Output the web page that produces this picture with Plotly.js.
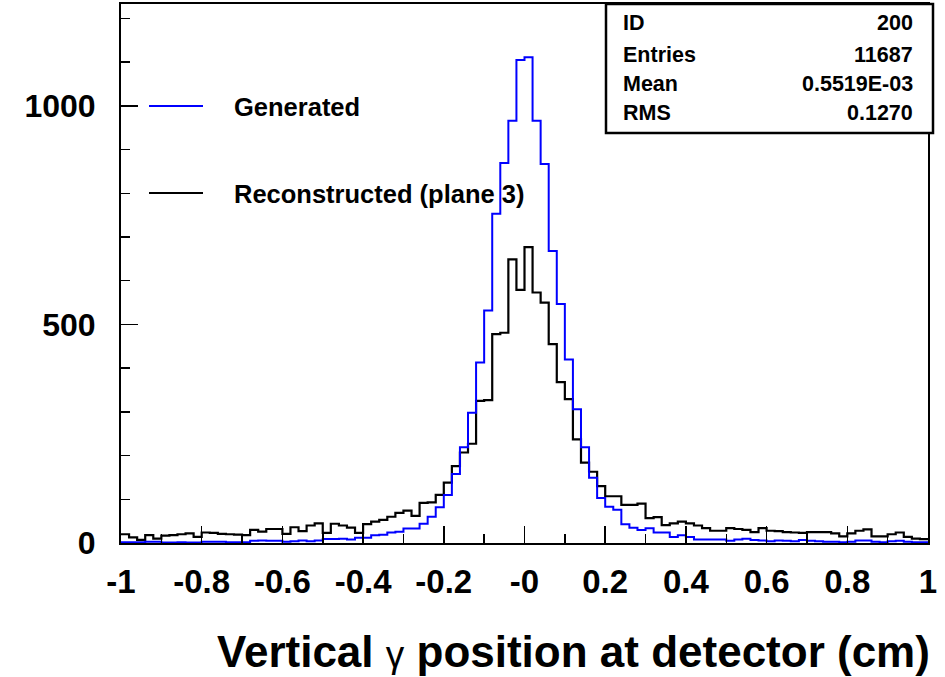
<!DOCTYPE html>
<html>
<head>
<meta charset="utf-8">
<script src="https://cdn.plot.ly/plotly-3.0.1.min.js"></script>
<style>html,body{margin:0;padding:0;background:#fff;}#chart{width:945px;height:677px;}</style>
</head>
<body>
<div id="chart"></div>
<script>
// Histogram definition
const xMin = -1, xMax = 1, nBins = 100;

// Generated (blue) bin contents
const generated = [
  2,2,2,3,3,1,1,2,1,1,3,3,3,2,2,
  2,5,6,5,5,3,4,6,4,6,9,9,10,
  8,12,12,18,19,24,26,33,33,44,60,82,110,
  158,219,298,413,532,753,869,966,1105,1111,966,867,668,547,420,306,219,149,103,
  83,76,43,35,30,34,24,24,14,18,14,8,8,8,8,
  5,8,10,7,6,4,6,5,4,7,5,4,
  3,3,2,3,6,6,3,2,4,5,3,2,2
];

// Reconstructed (plane 3) (black) bin contents
const reconstructed = [
  20,13,7,18,10,17,18,20,22,14,24,23,21,20,19,
  18,30,26,32,32,21,36,27,40,45,23,44,40,35,23,
  43,49,53,60,69,74,62,92,93,110,138,176,207,227,
  325,327,478,481,649,579,677,573,550,455,368,329,237,184,163,130,
  107,107,87,87,90,57,59,41,45,49,45,40,34,
  28,28,34,32,30,25,34,28,27,25,24,23,25,25,25,22,
  15,22,28,31,15,15,20,24,14,10,9
];

const xTickVals = [-1,-0.8,-0.6,-0.4,-0.2,0,0.2,0.4,0.6,0.8,1];
const xTickText = ['-1','-0.8','-0.6','-0.4','-0.2','-0','0.2','0.4','0.6','0.8','1'];
const yTickVals = [0,500,1000];
const yTickText = ['0','500','1000'];

const seriesNames = ['Generated','Reconstructed (plane 3)'];
const stats = [['ID','200'],['Entries','11687'],['Mean','0.5519E-03'],['RMS','0.1270']];
const xTitle = 'Vertical <span style="font-weight:normal;font-size:37px">γ</span> position at detector (cm)';

const binW = (xMax - xMin) / nBins;
function stepTrace(vals, color, name, w){
  const xs = [], ys = [];
  for (let i = 0; i < vals.length; i++){ xs.push(xMin + i*binW); ys.push(vals[i]); }
  xs.push(xMax); ys.push(vals[vals.length-1]);
  return {x: xs, y: ys, type:'scatter', mode:'lines', name: name,
          line:{shape:'hv', color: color, width: w}, showlegend:false, hoverinfo:'skip'};
}

const FONT = 'Liberation Sans, Arial, Helvetica, sans-serif';
const traces = [stepTrace(reconstructed,'#000000',seriesNames[1],2.2), stepTrace(generated,'#0000ff',seriesNames[0],2)];

const L = 121, R = 17, T = 4, B = 134;
const W = 945, H = 677;
const pw = W - L - R, ph = H - T - B;
const px = x => (x - L) / pw;
const py = y => (H - B - y) / ph;

const shapes = [
  {type:'line', xref:'paper', yref:'paper', x0:px(149), x1:px(203), y0:py(106), y1:py(106), line:{color:'#0000ff', width:2}},
  {type:'line', xref:'paper', yref:'paper', x0:px(149), x1:px(203), y0:py(193), y1:py(193), line:{color:'#000000', width:2}},
  {type:'rect', xref:'paper', yref:'paper', x0:px(606), x1:px(933), y0:py(4), y1:py(133), line:{color:'#000', width:2.5}, fillcolor:'#fff', layer:'above'}
];

const annotations = [
  {xref:'paper', yref:'paper', x:px(232), y:py(107), xanchor:'left', yanchor:'middle', showarrow:false, text:seriesNames[0], font:{family:FONT, size:25.5, weight:'bold', color:'#000'}},
  {xref:'paper', yref:'paper', x:px(232), y:py(194), xanchor:'left', yanchor:'middle', showarrow:false, text:seriesNames[1], font:{family:FONT, size:25.5, weight:'bold', color:'#000'}},
  {xref:'paper', yref:'paper', x:px(932), y:py(651), xanchor:'right', yanchor:'middle', showarrow:false, text:xTitle, font:{family:FONT, size:44, weight:'bold', color:'#000'}}
];
const rowY = [23, 55, 84, 113];
stats.forEach((r, i) => {
  annotations.push({xref:'paper', yref:'paper', x:px(621), y:py(rowY[i]), xanchor:'left', yanchor:'middle', showarrow:false, text:r[0], font:{family:FONT, size:21.5, weight:'bold', color:'#000'}});
  annotations.push({xref:'paper', yref:'paper', x:px(915), y:py(rowY[i]), xanchor:'right', yanchor:'middle', showarrow:false, text:r[1], font:{family:FONT, size:21.5, weight:'bold', color:'#000'}});
});

const layout = {
  width: W, height: H,
  margin:{l:L, r:R, t:T, b:B, pad:0},
  paper_bgcolor:'#fff', plot_bgcolor:'#fff',
  showlegend:false,
  xaxis:{range:[xMin, xMax], showgrid:false, zeroline:false, showline:true, mirror:true, linecolor:'#000', linewidth:2,
         ticks:'inside', ticklen:17, tickwidth:1.5, tickcolor:'#000',
         tickvals:xTickVals, ticktext:xTickText, ticklabelstandoff:8,
         tickfont:{family:FONT, size:33, weight:'bold', color:'#000'},
         minor:{dtick:0.1, tick0:0, ticks:'inside', ticklen:9, tickwidth:1.5, tickcolor:'#000', showgrid:false}},
  yaxis:{range:[0, 1233], showgrid:false, zeroline:false, showline:true, mirror:true, linecolor:'#000', linewidth:2,
         ticks:'inside', ticklen:17, tickwidth:1.5, tickcolor:'#000',
         tickvals:yTickVals, ticktext:yTickText, ticklabelstandoff:17,
         tickfont:{family:FONT, size:32, weight:'bold', color:'#000'},
         minor:{dtick:100, tick0:0, ticks:'inside', ticklen:9, tickwidth:1.5, tickcolor:'#000', showgrid:false}},
  shapes: shapes,
  annotations: annotations
};

Plotly.newPlot('chart', traces, layout, {displayModeBar:false, staticPlot:true});
</script>
</body>
</html>
